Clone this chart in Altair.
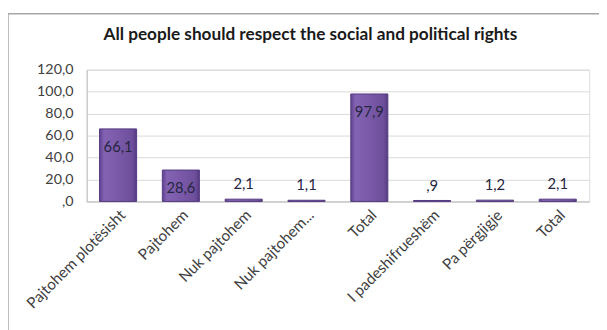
import json
import altair as alt
import pandas as pd

categories = ["Pajtohem plotësisht", "Pajtohem", "Nuk pajtohem", "Nuk pajtohem...",
              "Total", "I padeshifrueshëm", "Pa përgjigje", "Total"]
values = [66.1, 28.6, 2.1, 1.1, 97.9, 0.9, 1.2, 2.1]
y_ticks = [0, 20, 40, 60, 80, 100, 120]


def fmt(v):
    s = f"{v:.1f}".replace(".", ",")
    return s[1:] if s.startswith("0,") else s


df = pd.DataFrame({
    "idx": list(range(len(categories))),
    "value": values,
    "label": [fmt(v) for v in values],
})

FONT = "Lato"
label_expr = json.dumps(categories) + "[datum.value]"

x_enc = alt.X("idx:O", title=None,
              scale=alt.Scale(paddingInner=0.41, paddingOuter=0.205),
              axis=alt.Axis(labelExpr=label_expr, labelAngle=-45, ticks=False,
                            domainColor="#BFBFBF", labelFontSize=15.5,
                            labelColor="#404040", labelFont=FONT,
                            labelPadding=6, labelAlign="right", labelBaseline="top"))
y_enc = alt.Y("value:Q", title=None,
              scale=alt.Scale(domain=[0, 120], nice=False),
              axis=alt.Axis(values=y_ticks, ticks=False, domainColor="#BFBFBF",
                            gridColor="#D9D9D9", labelFontSize=14.5, labelOverlap=False,
                            labelColor="#404040", labelFont=FONT, labelPadding=14,
                            labelExpr="datum.value == 0 ? ',0' : replace(format(datum.value, '.1f'), '.', ',')"))

bar_fill = alt.Gradient(
    gradient="linear", x1=0, x2=1, y1=0, y2=0,
    stops=[alt.GradientStop(offset=0, color="#5E4290"),
           alt.GradientStop(offset=0.12, color="#8262B2"),
           alt.GradientStop(offset=0.5, color="#7A5AA8"),
           alt.GradientStop(offset=0.88, color="#6E4F9C"),
           alt.GradientStop(offset=1, color="#553A82")])

base = alt.Chart(df)

frame = base.mark_rect(fill="transparent", stroke="#A6A6A6", strokeWidth=1.5).encode(
    x=alt.value(-80), x2=alt.value(540), y=alt.value(-57), y2=alt.value(300)
).transform_filter("datum.idx == 0")

bars = base.mark_bar(fill=bar_fill, stroke="#553A82", strokeWidth=1).encode(x=x_enc, y=y_enc)

inside = base.transform_filter("datum.value >= 5").mark_text(
    baseline="middle", dy=18, fontSize=15, font=FONT, color="#262640"
).encode(x=x_enc, y=y_enc, text="label:N")

above = base.transform_filter("datum.value < 5").mark_text(
    baseline="middle", dy=-15, fontSize=15, font=FONT, color="#262640"
).encode(x=x_enc, y=y_enc, text="label:N")

chart = alt.layer(frame, bars, inside, above).properties(
    width=511, height=134,
    title=alt.TitleParams("All people should respect the social and political rights",
                          font=FONT, fontSize=17.5, fontWeight="bold", color="#1A1A1A",
                          anchor="middle", dx=-28, offset=-31),
    autosize=alt.AutoSizeParams(type="none"),
    padding={"left": 80, "top": 60, "right": 10, "bottom": 130},
).configure_view(stroke=None).configure(background="white")

chart.save("out.html", embed_options={"renderer": "svg", "actions": False})
